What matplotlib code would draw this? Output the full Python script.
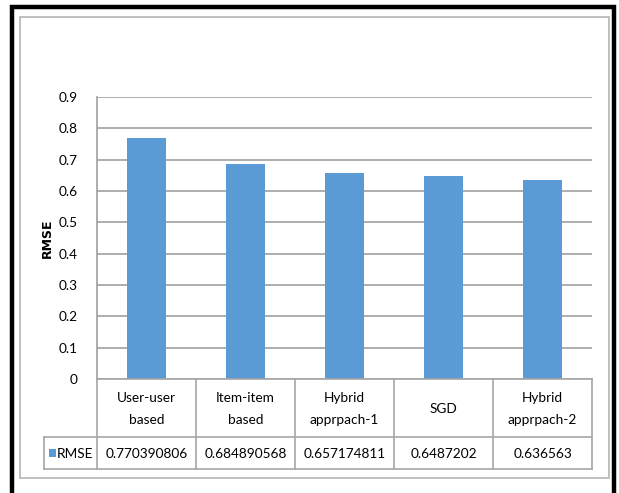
import matplotlib
matplotlib.use("Agg")
import matplotlib.pyplot as plt
from matplotlib.patches import Rectangle
from matplotlib.lines import Line2D
from matplotlib import font_manager
import numpy as np

categories = ["User-user\nbased", "Item-item\nbased", "Hybrid\napprpach-1", "SGD", "Hybrid\napprpach-2"]
rmse_values = [0.770390806, 0.684890568, 0.657174811, 0.6487202, 0.636563]
rmse_labels = ["0.770390806", "0.684890568", "0.657174811", "0.6487202", "0.636563"]
series_name = "RMSE"
yticks = [0, 0.1, 0.2, 0.3, 0.4, 0.5, 0.6, 0.7, 0.8, 0.9]

available = {f.name for f in font_manager.fontManager.ttflist}
font_name = 'DejaVu Sans'
for cand in ['Liberation Sans Narrow', 'Lato', 'Liberation Sans', 'Open Sans']:
    if cand in available:
        font_name = cand
        break
plt.rcParams['font.family'] = [font_name, 'DejaVu Sans']
FS = 9.8

W, H = 619, 493
fig = plt.figure(figsize=(W / 100, H / 100), dpi=100)
fig.patch.set_facecolor('white')

def fx(px):
    return px / W

def fy(py):
    return 1 - py / H

def hline(x0, x1, y, color='#a6a6a6', lw=1.2):
    fig.add_artist(Line2D([fx(x0), fx(x1)], [fy(y), fy(y)], transform=fig.transFigure,
                          color=color, lw=lw, solid_capstyle='projecting'))

def vline(x, y0, y1, color='#a6a6a6', lw=1.2):
    fig.add_artist(Line2D([fx(x), fx(x)], [fy(y0), fy(y1)], transform=fig.transFigure,
                          color=color, lw=lw, solid_capstyle='projecting'))

# Outer black frame and inner gray frame
fig.add_artist(Rectangle((fx(12), fy(520)), fx(614) - fx(12), fy(6.5) - fy(520),
                         transform=fig.transFigure, fill=False, edgecolor='black', lw=3.2))
fig.add_artist(Rectangle((fx(20), fy(478)), fx(609) - fx(20), fy(17) - fy(478),
                         transform=fig.transFigure, fill=False, edgecolor='#bfbfbf', lw=1.4))

ax_l, ax_r, ax_t, ax_b = 97, 592, 97, 379
ax = fig.add_axes([fx(ax_l), fy(ax_b), fx(ax_r) - fx(ax_l), fy(ax_t) - fy(ax_b)])

x = np.arange(len(categories))
ax.bar(x, rmse_values, width=0.39, color='#5b9bd5', zorder=3)
ax.set_xlim(-0.5, len(categories) - 0.5)
ax.set_ylim(0, 0.9)
ax.set_yticks(yticks)
ax.set_yticklabels([("0" if v == 0 else f"{v:.1f}") for v in yticks], fontsize=FS)
ax.tick_params(axis='y', length=0, pad=14)
ax.set_xticks([])
ax.yaxis.grid(True, color='#a0a0a0', lw=1.2, zorder=0)
for s in ['top', 'right', 'bottom']:
    ax.spines[s].set_visible(False)
ax.spines['left'].set_color('#a0a0a0')
ax.spines['left'].set_linewidth(1.2)

fig.text(fx(47.5), fy(238), "RMSE", rotation=90, ha='center', va='center',
         fontsize=9, fontweight='bold', family=['DejaVu Sans'])

# Data table drawn manually below the axes
row_top, row_mid, row_bot = 379, 437, 469
label_left = 44
col_w = (ax_r - ax_l) / len(categories)
bounds = [ax_l + i * col_w for i in range(len(categories) + 1)]

hline(ax_l, ax_r, row_top)
hline(label_left, ax_r, row_mid)
hline(label_left, ax_r, row_bot)
for b in bounds:
    vline(b, row_top, row_bot)
vline(label_left, row_mid, row_bot)

for i, cat in enumerate(categories):
    cx = (bounds[i] + bounds[i + 1]) / 2
    fig.text(fx(cx), fy((row_top + row_mid) / 2 + 1), cat, ha='center', va='center',
             fontsize=FS, linespacing=2.0)
    fig.text(fx(cx), fy((row_mid + row_bot) / 2 + 0.5), rmse_labels[i], ha='center',
             va='center', fontsize=FS)

fig.add_artist(Rectangle((fx(49), fy(457)), fx(56) - fx(49), fy(449) - fy(457),
                         transform=fig.transFigure, facecolor='#5b9bd5', edgecolor='none'))
fig.text(fx(57), fy((row_mid + row_bot) / 2 + 0.5), series_name, ha='left', va='center',
         fontsize=FS)

fig.savefig("out.png", dpi=100)
